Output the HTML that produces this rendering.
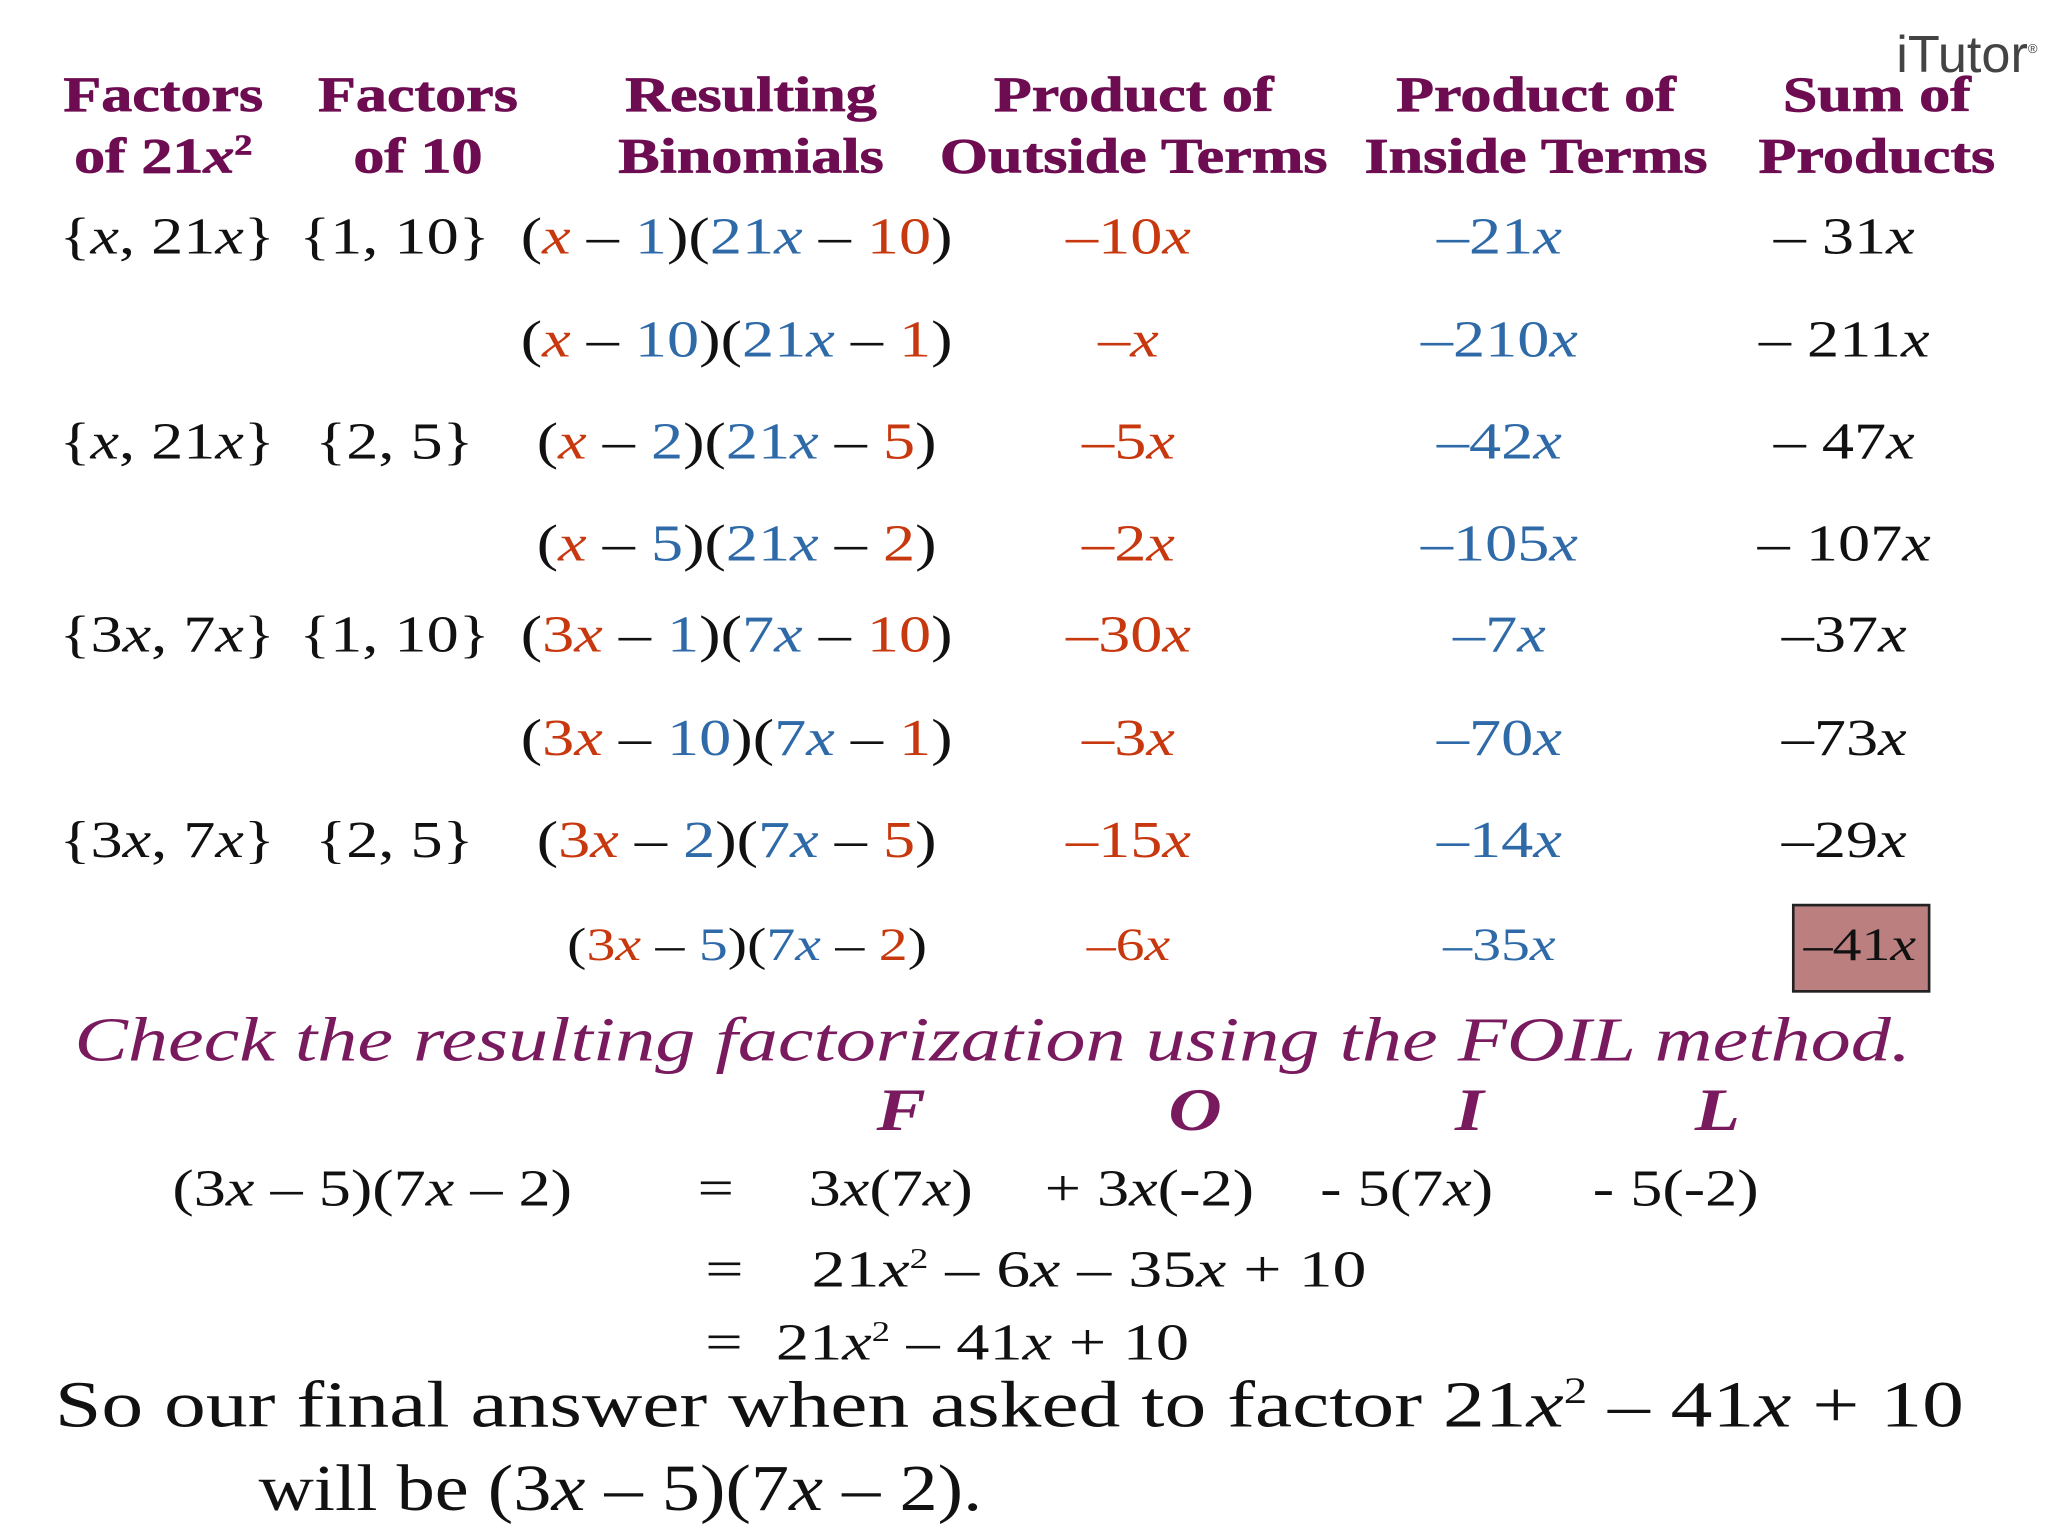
<!DOCTYPE html>
<html><head><meta charset="utf-8">
<style>
html,body{margin:0;padding:0;background:#fff;}
#page{position:relative;width:2048px;height:1536px;overflow:hidden;background:#fff;}
#s{position:absolute;left:0;top:0;width:1568px;height:1176px;transform:scale(1.3061);transform-origin:0 0;}
.c{position:absolute;width:600px;text-align:center;white-space:nowrap;line-height:1;transform:scaleX(1.23);transform-origin:50% 50%;}
.h{font-family:"Liberation Serif",serif;font-weight:bold;color:#6e0c52;font-size:38px;line-height:47px;transform:scaleX(1.25);-webkit-text-stroke:0.6px #6e0c52;}
.m{font-family:"Liberation Serif",serif;font-size:42px;color:#111;}
.l{position:absolute;white-space:nowrap;transform:scaleX(1.27);transform-origin:0 50%;}
i{font-style:italic;}
.r{color:#c8380f;} .b{color:#2f6aa8;}
.p{font-family:"Liberation Serif",serif;font-style:italic;color:#7a1a5e;}
</style></head><body>
<div id="page">
<div id="s">
<div class="c" style="left:1200px;top:22px;width:360px;text-align:right;transform:none;font-family:'Liberation Sans',sans-serif;font-size:40px;color:#444;">iTutor<sup style="font-size:10px">®</sup></div>

<div class="c h" style="left:-175px;top:50px">Factors<br>of 21<i>x</i><sup style="font-size:22px;line-height:0">2</sup></div>
<div class="c h" style="left:20px;top:50px">Factors<br>of 10</div>
<div class="c h" style="left:275px;top:50px">Resulting<br>Binomials</div>
<div class="c h" style="left:568px;top:50px">Product of<br>Outside Terms</div>
<div class="c h" style="left:876px;top:50px">Product of<br>Inside Terms</div>
<div class="c h" style="left:1137px;top:50px">Sum of<br>Products</div>

<div style="position:absolute;left:1372px;top:692px;width:102px;height:64px;background:#bb7f80;border:2px solid #222;"></div>

<div id="rows"></div>

<div class="c p" style="left:-40px;top:773px;width:1600px;font-size:48px;transform:scaleX(1.28)">Check the resulting factorization using the FOIL method.</div>
<div class="c p" style="left:390px;top:827px;font-size:46px;font-weight:bold">F</div>
<div class="c p" style="left:615px;top:827px;font-size:46px;font-weight:bold">O</div>
<div class="c p" style="left:825px;top:827px;font-size:46px;font-weight:bold">I</div>
<div class="c p" style="left:1015px;top:827px;font-size:46px;font-weight:bold">L</div>

<div class="c m" style="left:-15px;top:890px;font-size:40px">(3<i>x</i> – 5)(7<i>x</i> – 2)</div>
<div class="c m" style="left:248px;top:890px;font-size:40px">=</div>
<div class="c m" style="left:382px;top:890px;font-size:40px">3<i>x</i>(7<i>x</i>)</div>
<div class="c m" style="left:580px;top:890px;font-size:40px">+ 3<i>x</i>(-2)</div>
<div class="c m" style="left:777px;top:890px;font-size:40px">- 5(7<i>x</i>)</div>
<div class="c m" style="left:983px;top:890px;font-size:40px">- 5(-2)</div>
<div class="m l" style="left:540px;top:948px;font-size:40px;transform:scaleX(1.3)">=&nbsp;&nbsp;&nbsp;&nbsp;21<i>x</i><sup style="font-size:22px">2</sup> – 6<i>x</i> – 35<i>x</i> + 10</div>
<div class="m l" style="left:540px;top:1004px;font-size:40px">= &nbsp;21<i>x</i><sup style="font-size:22px">2</sup> – 41<i>x</i> + 10</div>
<div class="m l" style="left:42px;top:1046px;font-size:50px;transform:scaleX(1.28)">So our final answer when asked to factor 21<i>x</i><sup style="font-size:28px">2</sup> – 41<i>x</i> + 10</div>
<div class="m l" style="left:198px;top:1110px;font-size:50px;transform:scaleX(1.17)">will be (3<i>x</i> – 5)(7<i>x</i> – 2).</div>
</div></div>
<script>
const pairs21=['{<i>x</i>, 21<i>x</i>}','','{<i>x</i>, 21<i>x</i>}','','{3<i>x</i>, 7<i>x</i>}','','{3<i>x</i>, 7<i>x</i>}',''];
const pairs10=['{1, 10}','','{2, 5}','','{1, 10}','','{2, 5}',''];
const binA=['<span class=r><i>x</i></span>','<span class=r><i>x</i></span>','<span class=r><i>x</i></span>','<span class=r><i>x</i></span>','<span class=r>3<i>x</i></span>','<span class=r>3<i>x</i></span>','<span class=r>3<i>x</i></span>','<span class=r>3<i>x</i></span>'];
const binB=['1','10','2','5','1','10','2','5'];
const binC=['21','21','21','21','7','7','7','7'];
const binD=['10','1','5','2','10','1','5','2'];
const outside=['–10<i>x</i>','–<i>x</i>','–5<i>x</i>','–2<i>x</i>','–30<i>x</i>','–3<i>x</i>','–15<i>x</i>','–6<i>x</i>'];
const inside=['–21<i>x</i>','–210<i>x</i>','–42<i>x</i>','–105<i>x</i>','–7<i>x</i>','–70<i>x</i>','–14<i>x</i>','–35<i>x</i>'];
const sums=['– 31<i>x</i>','– 211<i>x</i>','– 47<i>x</i>','– 107<i>x</i>','–37<i>x</i>','–73<i>x</i>','–29<i>x</i>','–41<i>x</i>'];
const rowY=[183,262,340,418,488,567,645,725];
const rows=document.getElementById('rows');
function cell(cx,y,html,name,size){
  const d=document.createElement('div');
  d.className='c m';
  d.style.left=(cx-300)+'px';
  d.style.top=(y-size*0.55)+'px';
  d.style.fontSize=size+'px';
  d.innerHTML=html;
  
  
  rows.appendChild(d);
}
rowY.forEach((y,i)=>{
  const sz=i===7?36:40;
  if(pairs21[i]) cell(128,y,pairs21[i],'factors-21x2-'+(i+1),40);
  if(pairs10[i]) cell(302,y,pairs10[i],'factors-10-'+(i+1),40);
  cell(i===7?572:564,y,'('+binA[i]+' – <span class=b>'+binB[i]+'</span>)(<span class=b>'+binC[i]+'<i>x</i></span> – <span class=r>'+binD[i]+'</span>)','binomial-'+(i+1),sz);
  cell(864,y,'<span class=r>'+outside[i]+'</span>','outside-product-'+(i+1),sz);
  cell(1148,y,'<span class=b>'+inside[i]+'</span>','inside-product-'+(i+1),sz);
  cell(i===7?1424:1412,y,sums[i],'sum-'+(i+1),sz);
});
</script>
</body></html>
